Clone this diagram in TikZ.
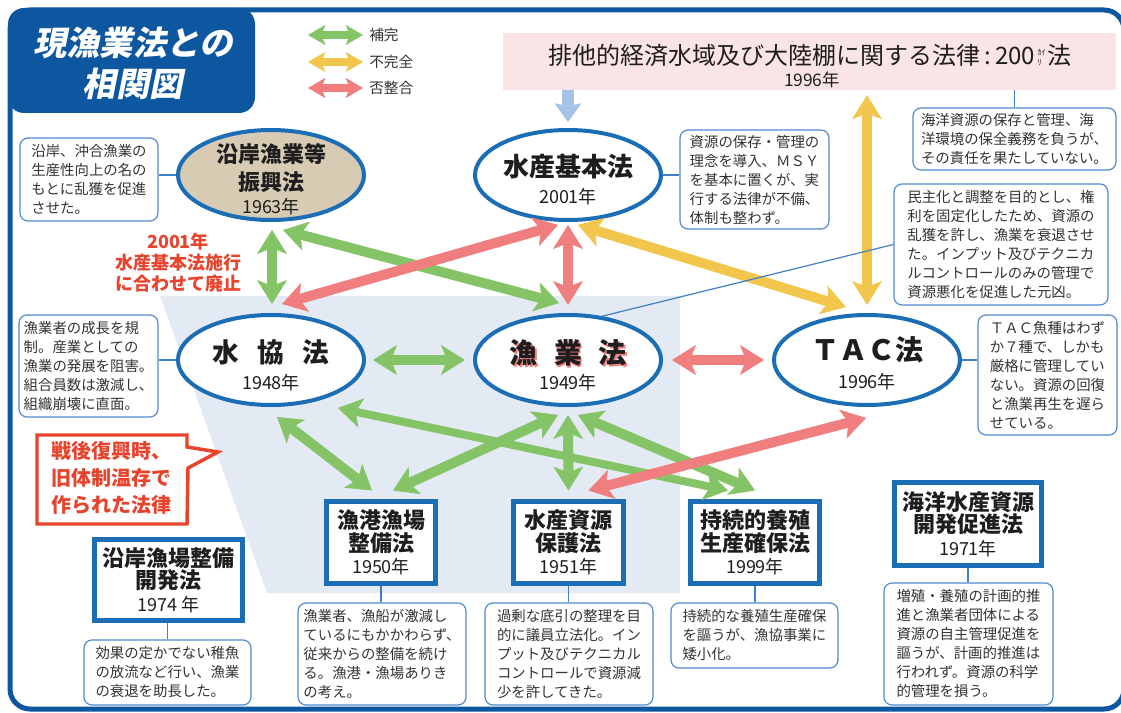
\documentclass[tikz,border=0pt]{standalone}
\usepackage{fontspec}
\setmainfont{Noto Sans CJK JP}
\newfontfamily\slantjp[FakeSlant=0.2]{Noto Sans CJK JP}
\usetikzlibrary{arrows.meta,calc,shapes.geometric}
\definecolor{frameblue}{HTML}{0D56A0}
\definecolor{ellblue}{HTML}{1B6DB5}
\definecolor{boxline}{HTML}{4F8BCF}
\definecolor{connblue}{HTML}{3E7FC6}
\definecolor{agreen}{HTML}{84C466}
\definecolor{ayellow}{HTML}{F2C64C}
\definecolor{ared}{HTML}{F07E7E}
\definecolor{ablue}{HTML}{A6C2E4}
\definecolor{bgshade}{HTML}{E4EAF4}
\definecolor{bannerpink}{HTML}{FBE4E5}
\definecolor{ellbeige}{HTML}{D7CCB3}
\definecolor{redtext}{HTML}{E8432C}
\definecolor{textgray}{HTML}{333333}
\definecolor{darktext}{HTML}{1E1E1E}
\tikzset{
  fathead/.tip={Stealth[length=18pt,width=22.5pt,inset=4.5pt,line width=0.5pt]},
  leghead/.tip={Stealth[length=13pt,width=15pt,inset=3pt,line width=0.5pt]},
  bluehead/.tip={Stealth[length=14pt,width=20pt,inset=2pt,line width=0.5pt]},
  ga/.style={draw=agreen, line width=7.5pt, arrows={fathead-fathead}},
  gathin/.style={draw=agreen, line width=6pt, arrows={fathead-fathead}},
  ya/.style={draw=ayellow, line width=7.5pt, arrows={fathead-fathead}},
  ra/.style={draw=ared, line width=7.5pt, arrows={fathead-fathead}},
  lg/.style={line width=5.5pt, arrows={leghead-leghead}},
  ell/.style={ellipse, draw=ellblue, line width=3pt, fill=white, minimum width=139.5pt, minimum height=67.5pt, inner sep=0pt},
  rbox/.style={rectangle, draw=ellblue, line width=3.75pt, fill=white, inner sep=0pt, align=center, minimum height=61.5pt, text=darktext,
     font=\fontsize{16.5pt}{17pt}\selectfont\bfseries},
  tbox/.style={rectangle, draw=boxline, line width=0.9pt, rounded corners=6pt, fill=white, inner sep=0pt, align=left, text=textgray,
     font=\fontsize{10.8pt}{14.25pt}\selectfont},
  conn/.style={draw=connblue, line width=0.9pt},
  etitle/.style={font=\fontsize{16.5pt}{21pt}\selectfont\bfseries, text=darktext, align=center, inner sep=0pt},
  eyear/.style={font=\fontsize{13.5pt}{16pt}\selectfont, text=darktext, inner sep=0pt},
  legtext/.style={anchor=west, font=\fontsize{11pt}{13pt}\selectfont, text=textgray, inner sep=0pt},
}
\newcommand\yr[1]{{\fontsize{13.5pt}{16pt}\selectfont\mdseries #1}}
\newcommand\kairi{\raisebox{-1pt}{\fontsize{6pt}{7.2pt}\selectfont\shortstack[l]{ｶｲ\\ﾘ}}}
\begin{document}
\begin{tikzpicture}[x=0.75pt,y=-0.75pt]
\useasboundingbox (0,0) rectangle (1121,713);
% background shading
\fill[bgshade] (160,296) -- (680,296) -- (680,593) -- (267,593) -- cycle;
% frame and title
\draw[frameblue, line width=3.75pt, rounded corners=15pt] (10,10) rectangle (1124,709);
\fill[frameblue, rounded corners=12pt] (8,8) rectangle (255,113);
\node[font=\slantjp\fontsize{25pt}{31pt}\selectfont\bfseries, text=white, align=center, inner sep=0pt] (title) at (133,63) {現漁業法との\\相関図};
% legend
\coordinate (lg1a) at (308,35); \coordinate (lg1b) at (363,35);
\coordinate (lg2a) at (308,62); \coordinate (lg2b) at (363,62);
\coordinate (lg3a) at (308,88); \coordinate (lg3b) at (363,88);
\draw[lg, draw=agreen] (lg1a) -- (lg1b);
\draw[lg, draw=ayellow] (lg2a) -- (lg2b);
\draw[lg, draw=ared] (lg3a) -- (lg3b);
\node[legtext] (lgt1) at (369,35) {補完};
\node[legtext] (lgt2) at (369,62) {不完全};
\node[legtext] (lgt3) at (369,88) {否整合};
% banner
\node[fill=bannerpink, minimum width=459.75pt, minimum height=42.75pt, inner sep=0pt] (banner) at (809.5,61.5) {};
\node[font=\fontsize{18pt}{20pt}\selectfont, text=darktext, inner sep=0pt] (bannerT) at (810,55)
  {排他的経済水域及び大陸棚に関する法律\,:\,200\kern2pt\kairi\kern1.5pt 法};
\node[font=\fontsize{13pt}{15pt}\selectfont, text=darktext, inner sep=0pt] (bannerY) at (812,80) {1996年};
% ellipses
\node[ell, fill=ellbeige] (engyo) at (271,175) {};
\node[ell] (kihon) at (568,175) {};
\node[ell] (suikyo) at (271,360) {};
\node[ell] (gyogyo) at (568,360) {};
\node[ell] (tac) at (867,360) {};
\node[etitle] (engyoT) at (271,168) {沿岸漁業等\\振興法};
\node[eyear] (engyoY) at (271,207) {1963年};
\node[etitle, font=\fontsize{19.5pt}{22pt}\selectfont\bfseries] (kihonT) at (568,167) {水産基本法};
\node[eyear] (kihonY) at (568,197) {2001年};
\node[etitle, font=\fontsize{20pt}{22pt}\selectfont\bfseries] (suikyoT) at (271,352) {水\hspace{0.7em}協\hspace{0.7em}法};
\node[eyear] (suikyoY) at (271,383) {1948年};
\node[etitle, font=\fontsize{21pt}{22pt}\selectfont\bfseries, text=ared] (gyogyoS) at (569.8,354.8) {漁\hspace{0.6em}業\hspace{0.6em}法};
\node[etitle, font=\fontsize{21pt}{22pt}\selectfont\bfseries] (gyogyoT) at (568,353) {漁\hspace{0.6em}業\hspace{0.6em}法};
\node[eyear] (gyogyoY) at (568,383) {1949年};
\node[etitle, font=\fontsize{21pt}{22pt}\selectfont\bfseries] (tacT) at (867,350) {ＴＡＣ法};
\node[eyear] (tacY) at (867,382) {1996年};
% rectangles
\node[rbox, minimum width=81.75pt] (gyokou) at (381,542.5) {漁港漁場\\整備法\\\yr{1950年}};
\node[rbox, minimum width=82.5pt] (shigen) at (568.5,542.5) {水産資源\\保護法\\\yr{1951年}};
\node[rbox, minimum width=96.75pt] (jizoku) at (755,542.5) {持続的養殖\\生産確保法\\\yr{1999年}};
\node[rbox, minimum width=111pt, minimum height=60.75pt] (engan) at (168.5,580) {沿岸漁場整備\\開発法\\\yr{1974 年}};
\node[rbox, minimum width=110.25pt, minimum height=62.25pt] (kaiyo) at (968,524) {海洋水産資源\\開発促進法\\\yr{1971年}};
% text boxes
\node[tbox, minimum width=103.5pt, minimum height=62.25pt] (t1) at (89,179.5) {沿岸、沖合漁業の\\生産性向上の名の\\もとに乱獲を促進\\させた。};
\node[tbox, minimum width=111.75pt, minimum height=74.25pt] (t2) at (754.5,179.5) {資源の保存・管理の\\理念を導入、ＭＳＹ\\を基本に置くが、実\\行する法律が不備、\\体制も整わず。};
\node[tbox, minimum width=152.25pt, minimum height=46.5pt] (t3) at (1014.5,139) {海洋資源の保存と管理、海\\洋環境の保全義務を負うが、\\その責任を果たしていない。};
\node[tbox, minimum width=160.5pt, minimum height=90.75pt] (t4) at (1001,244.5) {民主化と調整を目的とし、権\\利を固定化したため、資源の\\乱獲を許し、漁業を衰退させ\\た。インプット及びテクニカ\\ルコントロールのみの管理で\\資源悪化を促進した元凶。};
\node[tbox, minimum width=104.25pt, minimum height=90pt] (t5) at (1047.5,375) {ＴＡＣ魚種はわず\\か７種で、しかも\\厳格に管理してい\\ない。資源の回復\\と漁業再生を遅ら\\せている。};
\node[tbox, minimum width=104.25pt, minimum height=76.5pt] (t6) at (88.5,366) {漁業者の成長を規\\制。産業としての\\漁業の発展を阻害。\\組合員数は激減し、\\組織崩壊に直面。};
\node[tbox, minimum width=125.25pt, minimum height=48.75pt] (t7) at (167.5,672.5) {効果の定かでない稚魚\\の放流など行い、漁業\\の衰退を助長した。};
\node[tbox, minimum width=126pt, minimum height=76.5pt] (t8) at (382,654) {漁業者、漁船が激減し\\ているにもかかわらず、\\従来からの整備を続け\\る。漁港・漁場ありき\\の考え。};
\node[tbox, minimum width=126pt, minimum height=76.5pt] (t9) at (569,654) {過剰な底引の整理を目\\的に議員立法化。イン\\プット及びテクニカル\\コントロールで資源減\\少を許してきた。};
\node[tbox, minimum width=125.25pt, minimum height=48.75pt] (t10) at (754.5,635.5) {持続的な養殖生産確保\\を謳うが、漁協事業に\\矮小化。};
\node[tbox, minimum width=126.75pt, minimum height=91.5pt] (t11) at (968.5,644) {増殖・養殖の計画的推\\進と漁業者団体による\\資源の自主管理促進を\\謳うが、計画的推進は\\行われず。資源の科学\\的管理を損う。};
% red notes
\node[font=\fontsize{13.5pt}{15.75pt}\selectfont\bfseries, text=redtext, align=center, inner sep=0pt] (note) at (178,263) {2001年\\水産基本法施行\\に合わせて廃止};
\draw[draw=redtext, line width=2.6pt, fill=white, line join=miter] (37,435) -- (187,435) -- (187,447) -- (218,452) -- (188,468) -- (187,524) -- (37,524) -- cycle;
\node[font=\fontsize{15pt}{20.25pt}\selectfont\bfseries, text=redtext, align=left, inner sep=0pt] (callT) at (111,478) {戦後復興時、\\旧体制温存で\\作られた法律};
% green arrows
\draw[ga] ($(engyo.center)+(1,55)$) -- ($(suikyo.center)+(1,-56)$);
\draw[ga] ($(engyo.center)+(12,55)$) -- ($(gyogyo.center)+(-9,-57)$);
\draw[ga] ($(suikyo.center)+(102,0)$) -- ($(gyogyo.center)+(-103,0)$);
\draw[ga] ($(suikyo.center)+(6,57)$) -- ($(gyokou.center)+(-9,-52)$);
\draw[gathin] ($(suikyo.center)+(67,48)$) -- ($(jizoku.center)+(-27,-52)$);
\draw[ga] ($(gyogyo.center)+(-10,55)$) -- ($(gyokou.center)+(12,-52)$);
\draw[ga] ($(gyogyo.center)+(0,55)$) -- ($(shigen.center)+(0,-52)$);
\draw[ga] ($(gyogyo.center)+(10,55)$) -- ($(jizoku.center)+(0,-52)$);
% yellow arrows
\draw[ya] ($(kihon.center)+(10,50)$) -- ($(tac.center)+(-21,-53)$);
\draw[ya] ($(banner.south)+(57.5,5)$) -- ($(tac.center)+(0,-55)$);
% red arrows
\draw[ra] ($(kihon.center)+(-10,50)$) -- ($(suikyo.center)+(11,-56)$);
\draw[ra] ($(kihon.center)+(0,50)$) -- ($(gyogyo.center)+(0,-55)$);
\draw[ra] ($(gyogyo.center)+(104,0)$) -- ($(tac.center)+(-103,0)$);
\draw[ra] ($(tac.center)+(-1,58)$) -- ($(shigen.center)+(20,-52)$);
% blue arrow
\draw[draw=ablue, line width=9pt, arrows={-bluehead}] ($(banner.south)+(-241.5,0)$) -- ($(kihon.center)+(0,-53)$);
% connectors
\draw[conn] (t1.east |- engyo.west) -- (engyo.west);
\draw[conn] (kihon.east) -- (kihon.east -| t2.west);
\draw[conn] (t3.north) -- (t3.north |- banner.south);
\draw[conn] (t4.west) -- (gyogyo.52);
\draw[conn] (tac.east) -- (tac.east -| t5.west);
\draw[conn] (suikyo.west) -- (suikyo.west -| t6.east);
\draw[conn] (t7.north) -- (t7.north |- engan.south);
\draw[conn] (gyokou.south) -- (gyokou.south |- t8.north);
\draw[conn] (shigen.south) -- (shigen.south |- t9.north);
\draw[conn] (jizoku.south) -- (jizoku.south |- t10.north);
\draw[conn] (kaiyo.south) -- (kaiyo.south |- t11.north);
\end{tikzpicture}
\end{document}
